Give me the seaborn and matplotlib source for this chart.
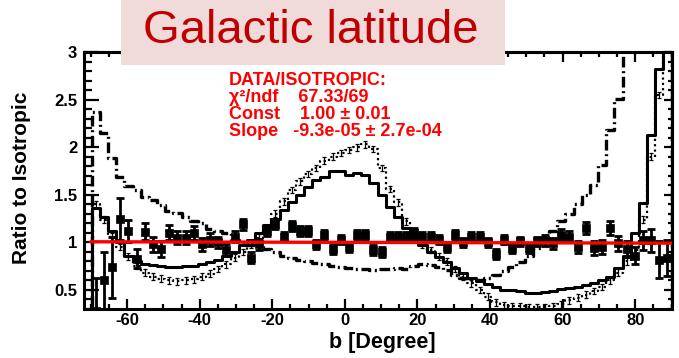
import numpy as np
import matplotlib
matplotlib.use("Agg")
import matplotlib.pyplot as plt
from matplotlib.patches import Rectangle
from matplotlib.ticker import MultipleLocator
import seaborn as sns

# Histogram binning in galactic latitude b (degrees)
b_lo, b_hi, n_bins = -72.0, 90.0, 72

# Ratio to isotropic for the three model histograms (one value per bin)
solid_ratio = [0.00, 1.36, 1.27, 1.12, 1.00, 0.86, 0.80, 0.77, 0.76, 0.75,
               0.74, 0.74, 0.75, 0.75, 0.77, 0.79, 0.82, 0.86, 0.90, 0.97,
               1.02, 1.10, 1.18, 1.25, 1.34, 1.42, 1.50, 1.58, 1.66, 1.69,
               1.75, 1.75, 1.71, 1.73, 1.71, 1.62, 1.50, 1.37, 1.27, 1.15,
               1.03, 0.97, 0.90, 0.85, 0.79, 0.73, 0.68, 0.63, 0.59, 0.56,
               0.53, 0.50, 0.50, 0.49, 0.47, 0.47, 0.48, 0.49, 0.51, 0.52,
               0.53, 0.55, 0.57, 0.60, 0.64, 0.73, 0.86, 1.10, 1.41, 2.13,
               2.82, 3.40]
dotted_ratio = [0.00, 1.40, 1.24, 1.06, 0.95, 0.85, 0.75, 0.68, 0.64, 0.62,
                0.60, 0.59, 0.60, 0.61, 0.64, 0.67, 0.72, 0.77, 0.84, 0.90,
                0.98, 1.05, 1.15, 1.30, 1.43, 1.55, 1.64, 1.72, 1.78, 1.86,
                1.90, 1.94, 1.97, 2.00, 2.03, 1.98, 1.78, 1.56, 1.42, 1.22,
                1.08, 0.98, 0.92, 0.85, 0.80, 0.72, 0.64, 0.57, 0.50, 0.43,
                0.37, 0.34, 0.33, 0.33, 0.32, 0.32, 0.32, 0.33, 0.35, 0.39,
                0.42, 0.45, 0.49, 0.53, 0.60, 0.68, 0.80, 0.92, 1.24, 1.90,
                2.55, 3.10]
dotted_err = 0.035
dashed_ratio = [0.00, 2.37, 2.15, 1.89, 1.69, 1.59, 1.55, 1.48, 1.45, 1.39,
                1.33, 1.31, 1.27, 1.22, 1.20, 1.14, 1.12, 1.10, 1.03, 1.00,
                0.97, 0.95, 0.93, 0.90, 0.86, 0.84, 0.82, 0.80, 0.78, 0.77,
                0.75, 0.74, 0.73, 0.72, 0.72, 0.71, 0.72, 0.72, 0.73, 0.72,
                0.75, 0.77, 0.76, 0.74, 0.71, 0.66, 0.63, 0.60, 0.60, 0.63,
                0.66, 0.70, 0.74, 0.79, 0.86, 0.94, 1.03, 1.12, 1.22, 1.30,
                1.40, 1.50, 1.60, 1.81, 2.18, 2.51, 3.30, 3.30, 3.30, 3.30,
                3.30, 3.30]

# DATA / ISOTROPIC ratio with errors, bins 1..71
data_ratio = [0.28, 0.60, 0.74, 1.25, 1.12, 0.83, 1.11, 0.98, 0.93, 1.10,
              1.05, 1.05, 1.10, 0.98, 1.03, 1.00, 0.92, 1.06, 1.19, 0.84,
              0.98, 1.12, 1.19, 1.06, 1.17, 1.12, 1.12, 0.98, 1.08, 0.93,
              1.03, 0.95, 1.08, 1.08, 0.92, 0.90, 1.06, 1.06, 1.06, 1.10,
              1.06, 1.06, 1.03, 0.95, 1.08, 1.00, 1.06, 1.06, 1.00, 0.88,
              1.03, 0.94, 1.01, 0.94, 1.01, 1.02, 0.99, 1.08, 1.06, 0.95,
              1.15, 0.94, 0.95, 1.15, 0.99, 0.93, 0.86, 1.02, 1.02, 0.82,
              0.84]
data_err = [0.35, 0.30, 0.32, 0.22, 0.12, 0.10, 0.09, 0.08, 0.08, 0.08,
            0.07, 0.07, 0.07, 0.07, 0.07, 0.06, 0.06, 0.06, 0.06, 0.06,
            0.06, 0.05, 0.05, 0.05, 0.05, 0.05, 0.05, 0.05, 0.05, 0.05,
            0.05, 0.05, 0.05, 0.05, 0.05, 0.05, 0.05, 0.05, 0.05, 0.05,
            0.05, 0.05, 0.05, 0.05, 0.05, 0.05, 0.05, 0.05, 0.05, 0.05,
            0.05, 0.05, 0.05, 0.05, 0.05, 0.06, 0.06, 0.06, 0.06, 0.06,
            0.06, 0.07, 0.07, 0.07, 0.08, 0.08, 0.09, 0.10, 0.12, 0.19,
            0.19]

# Linear fit of the data ratio
fit_const, fit_slope = 1.00, -9.3e-05
fit_lo, fit_hi = -70.0, 90.0
fit_chi2, fit_ndf = 67.33, 69
fit_const_err, fit_slope_err = 0.01, 2.7e-04

x_ticks = [-60, -40, -20, 0, 20, 40, 60, 80]
y_ticks = [0.5, 1, 1.5, 2, 2.5, 3]
y_tick_labels = ["0.5", "1", "1.5", "2", "2.5", "3"]

sns.set_theme(style="ticks", rc={
    "axes.edgecolor": "black", "text.color": "black",
    "xtick.color": "black", "ytick.color": "black",
    "axes.labelcolor": "black",
})
plt.rcParams["font.family"] = ["Liberation Sans", "DejaVu Sans"]
plt.rcParams["font.weight"] = "bold"
plt.rcParams["axes.unicode_minus"] = False

W, H = 679, 358
fig = plt.figure(figsize=(W / 100, H / 100), dpi=100)
fig.patch.set_facecolor("white")
L, R, T, B = 83.5, 671.5, 52.0, 309.0
ax = fig.add_axes([L / W, 1 - B / H, (R - L) / W, (B - T) / H])
ax.set_facecolor("white")

edges = np.linspace(b_lo, b_hi, n_bins + 1)
centers = 0.5 * (edges[:-1] + edges[1:])


def outline(vals):
    """Step outline of a histogram, closed down to zero at the last edge."""
    xs = list(edges) + [edges[-1]]
    ys = list(vals) + [vals[-1], 0.0]
    return xs, ys


xs, ys = outline(solid_ratio)
sns.lineplot(x=xs, y=ys, drawstyle="steps-post", estimator=None, sort=False,
             color="black", lw=2.2, ax=ax, zorder=3)

xs, ys = outline(dotted_ratio)
sns.lineplot(x=xs, y=ys, drawstyle="steps-post", estimator=None, sort=False,
             color="black", lw=1.6, linestyle=(0, (1, 1.4)), ax=ax, zorder=3)
ax.errorbar(centers, dotted_ratio, yerr=dotted_err, fmt="none",
            ecolor="black", elinewidth=0.9, capsize=1.5, capthick=0.9,
            zorder=3)

xs, ys = outline(dashed_ratio)
sns.lineplot(x=xs, y=ys, drawstyle="steps-post", estimator=None, sort=False,
             color="black", lw=2.4, linestyle=(0, (3.2, 1.1, 0.6, 1.1)),
             ax=ax, zorder=3)

# data points with error bars
data_x = centers[1:]
ax.errorbar(data_x, data_ratio, yerr=data_err, fmt="none", ecolor="black",
            elinewidth=2.0, capsize=2.6, capthick=2.0, zorder=4)
sns.scatterplot(x=data_x, y=data_ratio, marker="s", s=38, color="black",
                edgecolor="black", linewidth=0.5, ax=ax, zorder=5)

# fitted line
fit_x = [fit_lo, fit_hi]
fit_y = [fit_const + fit_slope * v for v in fit_x]
sns.lineplot(x=fit_x, y=fit_y, color="#ff0000", lw=2.4, ax=ax, zorder=6)

ax.set_xlim(b_lo, b_hi)
ax.set_ylim(0.3, 3.0)
ax.set_xticks(x_ticks)
ax.set_yticks(y_ticks)
ax.set_yticklabels(y_tick_labels)
ax.xaxis.set_minor_locator(MultipleLocator(5))
ax.yaxis.set_minor_locator(MultipleLocator(0.1))
for lab in ax.get_xticklabels() + ax.get_yticklabels():
    lab.set_fontweight("bold")
    lab.set_fontsize(12)

ax.tick_params(axis="x", which="major", direction="in", length=7.2,
               width=1.6, pad=3)
ax.tick_params(axis="x", which="minor", direction="in", length=3.6,
               width=1.6)
ax.tick_params(axis="y", which="major", direction="in", length=11,
               width=1.6, pad=4.5)
ax.tick_params(axis="y", which="minor", direction="in", length=5.5,
               width=1.6)
for s in ax.spines.values():
    s.set_linewidth(2.2)
    s.set_color("black")

top = ax.secondary_xaxis("top")
top.set_xticks(x_ticks)
top.xaxis.set_minor_locator(MultipleLocator(5))
top.tick_params(which="major", direction="in", length=7.2, width=1.6,
                labeltop=False)
top.tick_params(which="minor", direction="in", length=3.6, width=1.6)
top.spines["top"].set_linewidth(2.2)

right = ax.secondary_yaxis("right")
right.set_yticks(y_ticks)
right.yaxis.set_minor_locator(MultipleLocator(0.1))
right.tick_params(which="major", direction="in", length=6, width=1.6,
                  labelright=False)
right.tick_params(which="minor", direction="in", length=3, width=1.6)
right.spines["right"].set_linewidth(2.2)

ax.set_xlabel("b [Degree]", fontsize=15.5, fontweight="bold")
ax.xaxis.set_label_coords((382 - L) / (R - L), (B - 332) / (B - T))
ax.set_ylabel("Ratio to Isotropic", fontsize=15, fontweight="bold")
ax.yaxis.set_label_coords((31 - L) / (R - L), (B - 178) / (B - T))

# title banner
fig.add_artist(Rectangle((121 / W, 1 - 65 / H), (505 - 121) / W, 65 / H,
                         transform=fig.transFigure, facecolor="#f0dada",
                         edgecolor="none", zorder=2))
fig.text(143 / W, 1 - 43 / H, "Galactic latitude", fontsize=34,
         fontweight="normal", color="#c00000", va="baseline", zorder=3)

# fit summary block
summary = "\n".join([
    "DATA/ISOTROPIC:",
    f"χ²/ndf    {fit_chi2:.2f}/{fit_ndf}",
    f"Const    {fit_const:.2f} ± {fit_const_err:.2f}",
    f"Slope   {fit_slope:.1e} ± {fit_slope_err:.1e}",
])
fig.text(229 / W, 1 - 72 / H, summary, fontsize=13, fontweight="bold",
         color="#ff0000", va="top", ha="left", linespacing=1.0, zorder=3)

fig.savefig("out.png", dpi=100)
